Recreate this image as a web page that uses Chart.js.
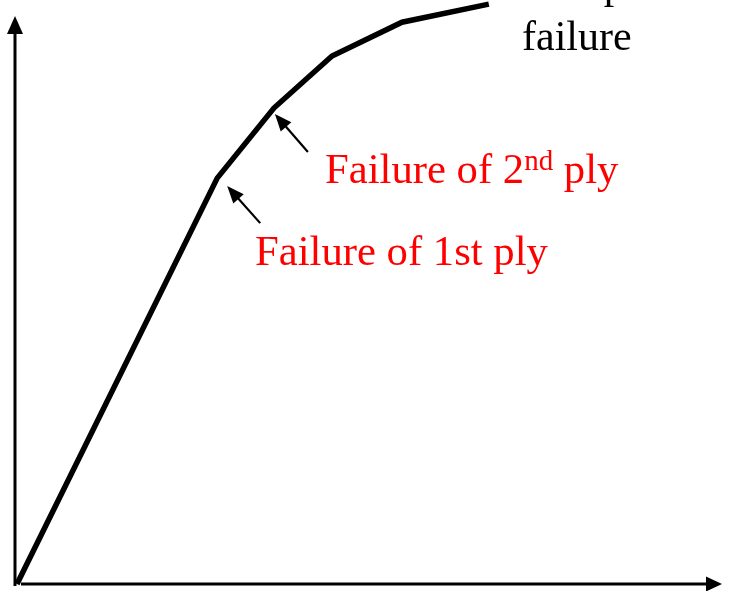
<!DOCTYPE html>
<html>
<head>
<meta charset="utf-8">
<script src="https://cdn.jsdelivr.net/npm/chart.js@4.4.1/dist/chart.umd.min.js"></script>
<style>
  html, body { margin: 0; padding: 0; background: #fff; }
  #wrap { width: 729px; height: 591px; position: relative; }
</style>
</head>
<body>
<div id="wrap"><canvas id="chart-ply"></canvas></div>
<script>
// load-deformation curve of a laminate (arbitrary units, origin at axis corner)
const strainVals = [0, 28.6, 36.7, 45, 55, 67.4];
const loadVals = [0, 69.5, 81.5, 90.4, 96.2, 99.3];
const plyLabels = ['Failure of 1st ply', 'Failure of 2nd ply'];
const finalLabel = ['Complete', 'failure'];

const points = strainVals.map((x, i) => ({ x, y: loadVals[i] }));
const serif = '"Liberation Serif", "Times New Roman", serif';

function arrow(ctx, x1, y1, x2, y2, head, halfW) {
  const ang = Math.atan2(y2 - y1, x2 - x1);
  ctx.beginPath();
  ctx.moveTo(x1, y1);
  ctx.lineTo(x2 - Math.cos(ang) * head * 0.8, y2 - Math.sin(ang) * head * 0.8);
  ctx.stroke();
  ctx.beginPath();
  ctx.moveTo(x2, y2);
  ctx.lineTo(x2 - Math.cos(ang) * head + Math.sin(ang) * halfW, y2 - Math.sin(ang) * head - Math.cos(ang) * halfW);
  ctx.lineTo(x2 - Math.cos(ang) * head - Math.sin(ang) * halfW, y2 - Math.sin(ang) * head + Math.cos(ang) * halfW);
  ctx.closePath();
  ctx.fill();
}

const axesPlugin = {
  id: 'axesArrows',
  beforeDatasetsDraw(chart) {
    const { ctx, scales: { x, y } } = chart;
    const ox = x.getPixelForValue(0) - 2;
    const oy = y.getPixelForValue(0);
    ctx.save();
    ctx.strokeStyle = '#000';
    ctx.fillStyle = '#000';
    ctx.lineWidth = 3;
    ctx.lineCap = 'butt';
    arrow(ctx, ox, oy + 2, ox, 16, 18, 8);
    arrow(ctx, ox + 6, oy, 722, oy, 16, 7.5);
    ctx.restore();
  }
};

const notesPlugin = {
  id: 'plyNotes',
  afterDatasetsDraw(chart) {
    const { ctx, scales: { x, y } } = chart;
    const v1 = { x: x.getPixelForValue(strainVals[1]), y: y.getPixelForValue(loadVals[1]) };
    const v2 = { x: x.getPixelForValue(strainVals[2]), y: y.getPixelForValue(loadVals[2]) };
    ctx.save();
    ctx.strokeStyle = '#000';
    ctx.fillStyle = '#000';
    ctx.lineWidth = 2.2;
    arrow(ctx, v1.x + 43, v1.y + 45, v1.x + 10, v1.y + 8, 17, 7);
    arrow(ctx, v2.x + 34, v2.y + 44, v2.x + 1, v2.y + 6, 17, 7);

    ctx.textBaseline = 'alphabetic';
    ctx.textAlign = 'left';
    ctx.font = `42px ${serif}`;
    ctx.fillText(finalLabel[0], 522, -2);
    ctx.fillText(finalLabel[1], 522, 50);

    ctx.fillStyle = '#FF0000';
    ctx.font = `42.7px ${serif}`;
    ctx.fillText(plyLabels[0], 255, 265);

    // "Failure of 2nd ply" with superscript
    let px = 325;
    const pre = 'Failure of 2';
    ctx.fillText(pre, px, 183);
    px += ctx.measureText(pre).width;
    ctx.font = `29px ${serif}`;
    ctx.fillText('nd', px, 170);
    px += ctx.measureText('nd').width;
    ctx.font = `42.7px ${serif}`;
    ctx.fillText(' ply', px, 183);
    ctx.restore();
  }
};

new Chart(document.getElementById('chart-ply'), {
  type: 'scatter',
  data: {
    datasets: [{
      data: points,
      showLine: true,
      borderColor: '#000',
      borderWidth: 5.5,
      pointRadius: 0,
      tension: 0,
      clip: false,
      borderJoinStyle: 'miter'
    }]
  },
  options: {
    responsive: true,
    maintainAspectRatio: false,
    animation: false,
    layout: { padding: { left: 17, right: 12, top: 0, bottom: 7 } },
    plugins: { legend: { display: false }, tooltip: { enabled: false } },
    scales: {
      x: { type: 'linear', min: 0, max: 100, display: false },
      y: { type: 'linear', min: 0, max: 100, display: false }
    }
  },
  plugins: [axesPlugin, notesPlugin]
});
</script>
</body>
</html>
